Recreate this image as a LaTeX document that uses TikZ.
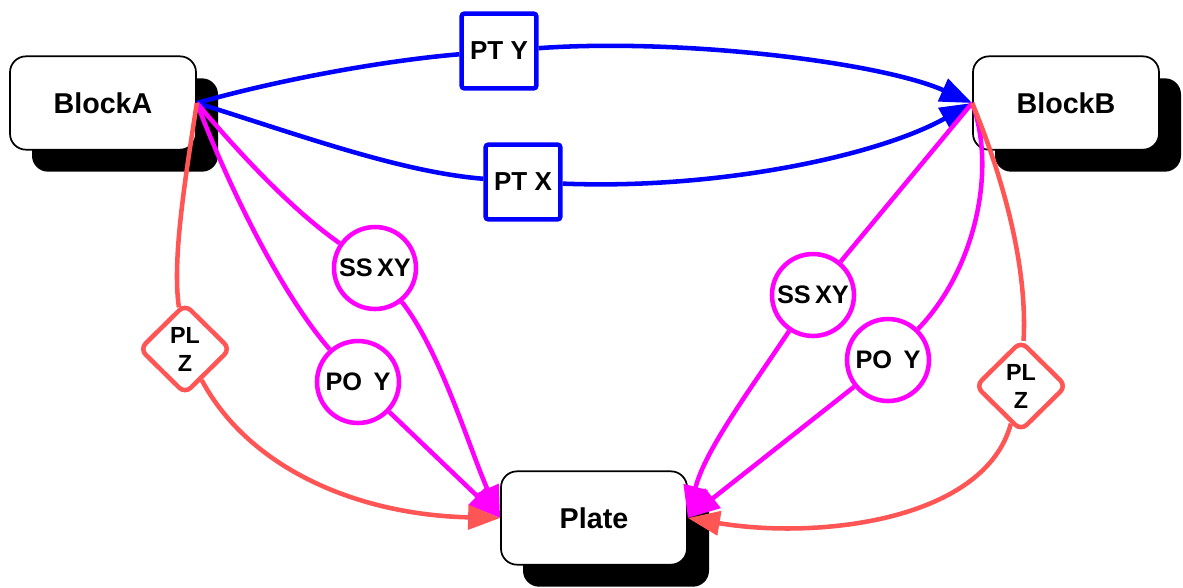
\documentclass[tikz,border=0pt]{standalone}
\usepackage{fontspec}
\setmainfont{Liberation Sans}
\usetikzlibrary{arrows.meta,shapes.geometric,shadows}
\definecolor{linkblue}{RGB}{0,0,255}
\definecolor{linkmag}{RGB}{255,0,255}
\definecolor{linkred}{RGB}{255,85,85}
\begin{document}
\begin{tikzpicture}[x=0.75pt,y=-0.75pt,
  block/.style={draw=black, line width=1.3pt, fill=white, rounded corners=12pt,
    minimum width=139.5pt, minimum height=70pt, inner sep=0pt,
    font=\fontsize{21.5}{25}\selectfont\bfseries,
    drop shadow={shadow xshift=16.5pt, shadow yshift=-16.5pt, fill=black, opacity=1}},
  ptbox/.style={draw=linkblue, line width=3.4pt, fill=white, rounded corners=2pt,
    minimum size=56pt, inner sep=0pt, font=\fontsize{19.5}{22}\selectfont\bfseries},
  ssbox/.style={circle, draw=linkmag, line width=3.4pt, fill=white,
    minimum size=61.5pt, inner sep=0pt, font=\fontsize{19}{22}\selectfont\bfseries},
  plbox/.style={diamond, draw=linkred, line width=3.4pt, fill=white, rounded corners=6pt,
    minimum width=69pt, minimum height=68pt, inner sep=0pt, align=center,
    font=\fontsize{17.5}{21}\selectfont\bfseries},
  tip/.style={-{Triangle[length=24pt,width=18pt]}},
  bl/.style={draw=linkblue, line width=3.4pt},
  mg/.style={draw=linkmag, line width=3.4pt},
  sa/.style={draw=linkred, line width=3.4pt}
]
\useasboundingbox (0,0) rectangle (1183,587);

% main blocks
\node[block] (A) at (103,103) {BlockA};
\node[block] (B) at (1066,103) {BlockB};
\node[block] (P) at (594,518) {Plate};

% link labels
\node[ptbox] (pty) at (499,51) {PT Y};
\node[ptbox] (ptx) at (523,182) {PT X};
\node[ssbox] (ssl) at (375,268) {SS\,XY};
\node[ssbox] (pol) at (358,382) {PO\hspace{0.45em}Y};
\node[plbox] (plzl) at (185,349) {PL\\Z};
\node[ssbox] (ssr) at (813,295) {SS\,XY};
\node[ssbox] (por) at (888,360) {PO\hspace{0.45em}Y};
\node[plbox] (plzr) at (1021,386) {PL\\Z};

% BlockA -> BlockB
\draw[bl] (A.east) .. controls (285,78) and (390,60) .. (pty);
\draw[bl,tip] (pty) .. controls (680,38) and (880,62) .. (B.west);
\draw[bl] (A.east) .. controls (300,135) and (400,172) .. (ptx);
\draw[bl,tip] (ptx) .. controls (720,190) and (880,155) .. (B.west);

% BlockA -> Plate
\draw[mg] (A.east) .. controls (245,160) and (295,212) .. (ssl);
\draw[mg,tip] (ssl) .. controls (440,350) and (470,450) .. (P.west);
\draw[mg] (A.east) .. controls (228,185) and (280,292) .. (pol);
\draw[mg,tip] (pol) -- (P.west);
\draw[sa] (A.east) .. controls (185,180) and (172,260) .. (plzl);
\draw[sa,tip] (plzl) .. controls (250,470) and (360,515) .. (P.west);

% BlockB -> Plate
\draw[mg] (B.west) -- (ssr);
\draw[mg,tip] (ssr) .. controls (750,390) and (705,450) .. (P.east);
\draw[mg] (B.west) .. controls (997,170) and (975,270) .. (por);
\draw[mg,tip] (por) -- (P.east);
\draw[sa] (B.west) .. controls (1000,170) and (1028,262) .. (plzr);
\draw[sa,tip] (plzr) .. controls (985,520) and (820,540) .. (P.east);
\end{tikzpicture}
\end{document}
